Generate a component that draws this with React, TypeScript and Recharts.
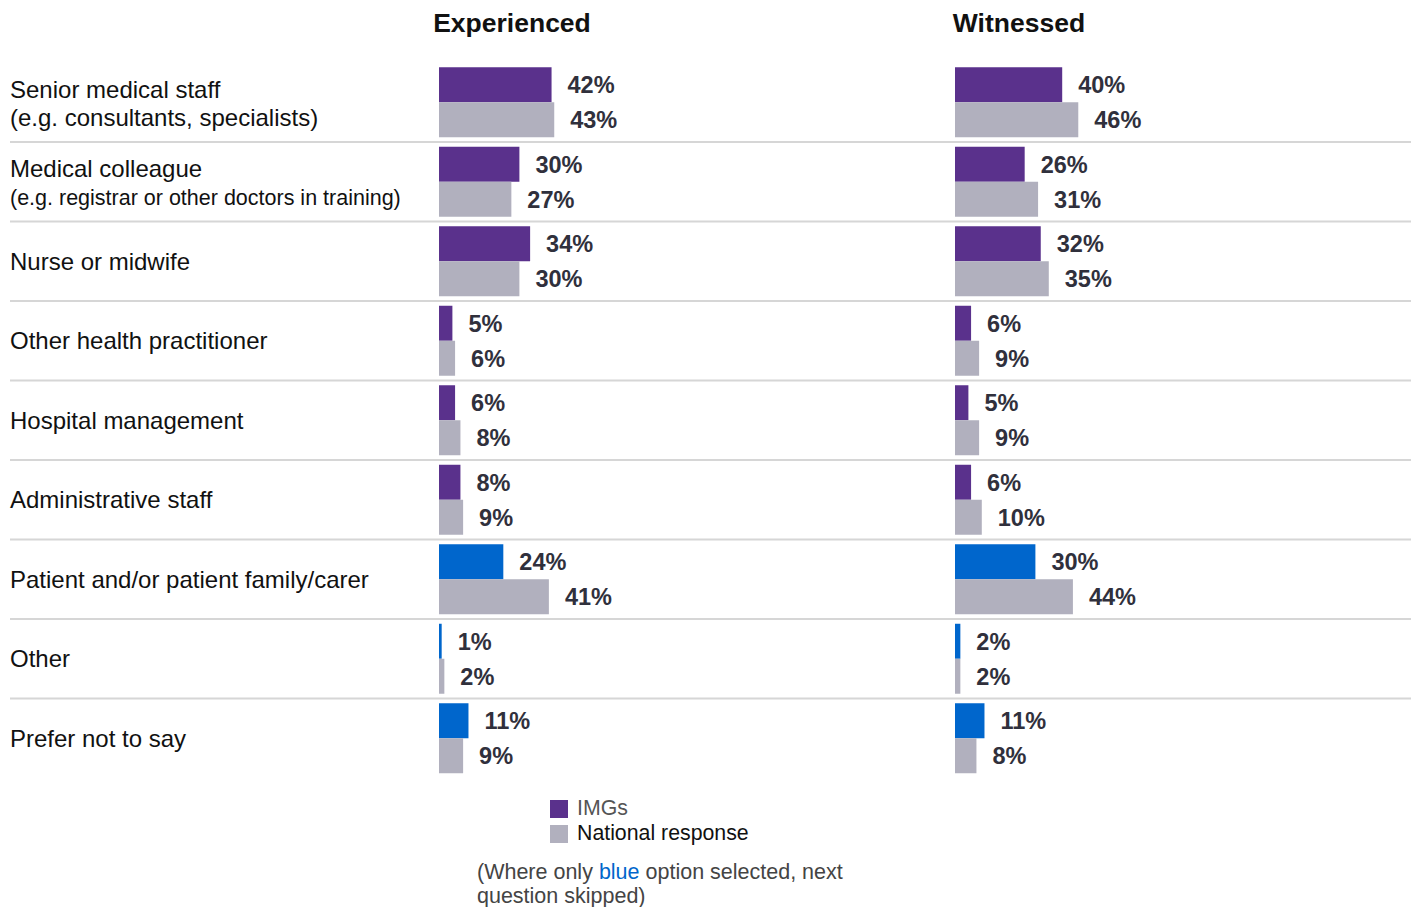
import { BarChart, Bar, XAxis, YAxis, Cell, LabelList } from 'recharts';

const categories = [
  'Senior medical staff',
  'Medical colleague',
  'Nurse or midwife',
  'Other health practitioner',
  'Hospital management',
  'Administrative staff',
  'Patient and/or patient family/carer',
  'Other',
  'Prefer not to say',
];
const categoryNotes = [
  '(e.g. consultants, specialists)',
  '(e.g. registrar or other doctors in training)',
  '', '', '', '', '', '', '',
];
// categories where the "blue" answer skips the next question
const blueOption = [false, false, false, false, false, false, true, true, true];

const experiencedImg = [42, 30, 34, 5, 6, 8, 24, 1, 11];
const experiencedNational = [43, 27, 30, 6, 8, 9, 41, 2, 9];
const witnessedImg = [40, 26, 32, 6, 5, 6, 30, 2, 11];
const witnessedNational = [46, 31, 35, 9, 9, 10, 44, 2, 8];

const PURPLE = '#5a318c';
const BLUE = '#0066cc';
const GREY = '#b1b0be';
const FONT = '"Liberation Sans", Arial, sans-serif';

const WIDTH = 1411;
const HEIGHT = 907;
const TOP = 62;
const ROW = 79.5;
const PLOT_H = ROW * categories.length;
const BOTTOM = HEIGHT - TOP - PLOT_H;
const PLOT_W = 268;

const experiencedData = categories.map((c, i) => ({
  category: c,
  img: experiencedImg[i],
  national: experiencedNational[i],
}));
const witnessedData = categories.map((c, i) => ({
  category: c,
  img: witnessedImg[i],
  national: witnessedNational[i],
}));

function CategoryTick(props: any) {
  const { y, payload } = props;
  const i = categories.indexOf(payload.value);
  const note = categoryNotes[i];
  return (
    <g>
      {note ? (
        <>
          <text x={10} y={y - 4} fontSize={24} fill="#111" fontFamily={FONT}>
            {payload.value}
          </text>
          <text x={10} y={y + 24} fontSize={i === 1 ? 21.5 : 24} fill="#111" fontFamily={FONT}>
            {note}
          </text>
        </>
      ) : (
        <text x={10} y={y + 9} fontSize={24} fill="#111" fontFamily={FONT}>
          {payload.value}
        </text>
      )}
      {i < categories.length - 1 && (
        <line x1={10} x2={WIDTH} y1={y + ROW / 2 + 0.5} y2={y + ROW / 2 + 0.5} stroke="#d6d6d6" strokeWidth={2} />
      )}
    </g>
  );
}

const valueLabelStyle = { fontSize: 23.5, fontWeight: 700, fill: '#30303c', fontFamily: FONT };

function Panel({ data, left, showLabels }: { data: any[]; left: number; showLabels: boolean }) {
  return (
    <div style={{ position: 'absolute', left: 0, top: 0 }}>
      <BarChart
        width={WIDTH}
        height={HEIGHT}
        data={data}
        layout="vertical"
        margin={{ top: TOP, bottom: BOTTOM, left: showLabels ? 10 : left, right: WIDTH - left - PLOT_W }}
        barCategoryGap={5.25}
        barGap={0}
      >
        <XAxis type="number" domain={[0, 100]} hide />
        <YAxis
          type="category"
          dataKey="category"
          width={showLabels ? left - 10 : 0}
          hide={!showLabels}
          axisLine={false}
          tickLine={false}
          tick={<CategoryTick />}
          interval={0}
        />
        <Bar dataKey="img" isAnimationActive={false}>
          {data.map((_, i) => (
            <Cell key={i} fill={blueOption[i] ? BLUE : PURPLE} />
          ))}
          <LabelList dataKey="img" position="right" offset={16} formatter={(v: any) => `${v}%`} style={valueLabelStyle} />
        </Bar>
        <Bar dataKey="national" fill={GREY} isAnimationActive={false}>
          <LabelList dataKey="national" position="right" offset={16} formatter={(v: any) => `${v}%`} style={valueLabelStyle} />
        </Bar>
      </BarChart>
    </div>
  );
}

export default function App() {
  return (
    <div
      style={{
        position: 'absolute',
        left: 0,
        top: 0,
        width: WIDTH,
        height: HEIGHT,
        overflow: 'hidden',
        background: '#fff',
        fontFamily: FONT,
      }}
    >
      <Panel data={experiencedData} left={439} showLabels />
      <Panel data={witnessedData} left={955} showLabels={false} />
      <div style={{ position: 'absolute', left: 412, width: 200, top: 8, textAlign: 'center', fontSize: 26.5, fontWeight: 700, color: '#111' }}>
        Experienced
      </div>
      <div style={{ position: 'absolute', left: 919, width: 200, top: 8, textAlign: 'center', fontSize: 26.5, fontWeight: 700, color: '#111' }}>
        Witnessed
      </div>
      <div style={{ position: 'absolute', left: 550, top: 796, fontSize: 21.3, lineHeight: '25px' }}>
        <div style={{ display: 'flex', alignItems: 'center' }}>
          <span style={{ width: 18, height: 18, background: PURPLE, marginRight: 9, display: 'inline-block' }} />
          <span style={{ color: '#555' }}>IMGs</span>
        </div>
        <div style={{ display: 'flex', alignItems: 'center' }}>
          <span style={{ width: 18, height: 18, background: GREY, marginRight: 9, display: 'inline-block' }} />
          <span style={{ color: '#111' }}>National response</span>
        </div>
      </div>
      <div style={{ position: 'absolute', left: 477, top: 860, fontSize: 21.5, lineHeight: '24px', color: '#444', whiteSpace: 'nowrap' }}>
        <div>
          (Where only <span style={{ color: BLUE }}>blue</span> option selected, next
        </div>
        <div>question skipped)</div>
      </div>
    </div>
  );
}
